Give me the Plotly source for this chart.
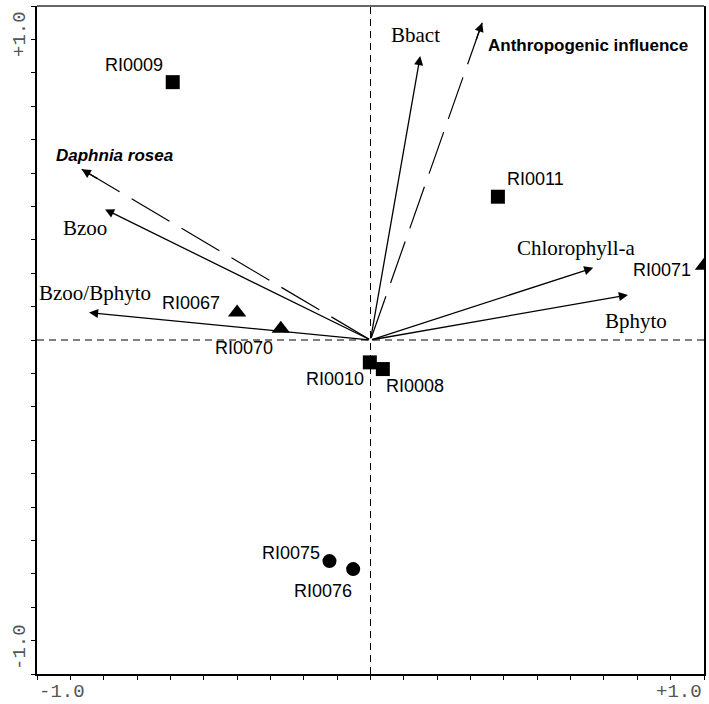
import math
import plotly.graph_objects as go

# ---------------- data ----------------
site_names = ["RI0009", "RI0011", "RI0071", "RI0067", "RI0070",
              "RI0010", "RI0008", "RI0075", "RI0076"]
site_x = [-0.593, 0.382, 1.000, -0.400, -0.269, -0.002, 0.037, -0.123, -0.052]
site_y = [0.772, 0.429, 0.222, 0.082, 0.034, -0.067, -0.087, -0.662, -0.686]
site_group = ["A", "A", "B", "B", "B", "A", "A", "C", "C"]

var_names = ["Bbact", "Chlorophyll-a", "Bphyto", "Bzoo/Bphyto", "Bzoo"]
var_x = [0.149, 0.668, 0.772, -0.844, -0.796]
var_y = [0.850, 0.216, 0.135, 0.082, 0.391]

supp_names = ["Anthropogenic influence", "Daphnia rosea"]
supp_x = [0.335, -0.866]
supp_y = [0.950, 0.511]

tick_labels = ["-1.0", "+1.0"]

# ---------------- styles / label placement (pixels) ----------------
group_symbol = {"A": "square", "B": "triangle-up", "C": "circle"}
group_size = {"A": 14, "B": 16, "C": 14}

site_label_shift = {
    "RI0009": (-39, 17), "RI0011": (38, 18), "RI0071": (-42, -4),
    "RI0067": (-46, 10), "RI0070": (-37, -19), "RI0010": (-35, -17),
    "RI0008": (32, -17), "RI0075": (-38, 8), "RI0076": (-30, -22),
}
var_label_shift = {
    "Bbact": (-5, 21), "Chlorophyll-a": (-17, 20), "Bphyto": (8, -26),
    "Bzoo/Bphyto": (6, 20), "Bzoo": (-20, -19),
}
supp_label_shift = {
    "Anthropogenic influence": (106, -23), "Daphnia rosea": (33, 14),
}

PX_PER_UNIT = 334.0
SANS = "Liberation Sans, Arial, sans-serif"
SERIF = "Liberation Serif, Times New Roman, serif"
MONO = "Liberation Mono, Courier New, monospace"

fig = go.Figure()

annotations = []

# solid arrows (species/environment vectors)
for name, vx, vy in zip(var_names, var_x, var_y):
    annotations.append(dict(
        x=vx, y=vy, ax=0, ay=0, xref="x", yref="y", axref="x", ayref="y",
        text="", showarrow=True, arrowhead=2, arrowsize=1.4, arrowwidth=1.3,
        arrowcolor="black", standoff=0, startstandoff=0))
    dx, dy = var_label_shift[name]
    annotations.append(dict(
        x=vx, y=vy, xref="x", yref="y", text=name, showarrow=False,
        xshift=dx, yshift=dy, xanchor="center", yanchor="middle",
        font=dict(family=SERIF, size=21, color="black")))

# dashed arrows (supplementary variables)
for name, vx, vy in zip(supp_names, supp_x, supp_y):
    fig.add_trace(go.Scatter(
        x=[vx, 0], y=[vy, 0], mode="lines", hoverinfo="skip",
        line=dict(color="black", width=1.2, dash="44px,14px"),
        showlegend=False))
    length_px = math.hypot(vx, vy) * PX_PER_UNIT
    frac = 1 - 20.0 / length_px
    annotations.append(dict(
        x=vx, y=vy, ax=vx * frac, ay=vy * frac, xref="x", yref="y",
        axref="x", ayref="y", text="", showarrow=True, arrowhead=2,
        arrowsize=1.4, arrowwidth=1.3, arrowcolor="black",
        standoff=0, startstandoff=0))
    dx, dy = supp_label_shift[name]
    label = "<b>" + name + "</b>" if name.startswith("Anthrop") else "<b><i>" + name + "</i></b>"
    annotations.append(dict(
        x=vx, y=vy, xref="x", yref="y", text=label, showarrow=False,
        xshift=dx, yshift=dy, xanchor="center", yanchor="middle",
        font=dict(family=SANS, size=17, color="black")))

# sites
fig.add_trace(go.Scatter(
    x=site_x, y=site_y, mode="markers", hoverinfo="text", text=site_names,
    marker=dict(symbol=[group_symbol[g] for g in site_group],
                size=[group_size[g] for g in site_group],
                color="black", opacity=1, line=dict(width=0)),
    showlegend=False))
for name, sx, sy in zip(site_names, site_x, site_y):
    dx, dy = site_label_shift[name]
    annotations.append(dict(
        x=sx, y=sy, xref="x", yref="y", text=name, showarrow=False,
        xshift=dx, yshift=dy, xanchor="center", yanchor="middle",
        font=dict(family=SANS, size=18, color="black")))

# axis end labels
tick_font = dict(family=MONO, size=19, color="#555555")
annotations += [
    dict(x=-1, y=0, xref="x", yref="paper", text=tick_labels[0], showarrow=False,
         xanchor="left", yanchor="middle", yshift=-18, font=tick_font),
    dict(x=1, y=0, xref="x", yref="paper", text=tick_labels[1], showarrow=False,
         xanchor="right", yanchor="middle", yshift=-18, font=tick_font),
    dict(x=0, y=1, xref="paper", yref="y", text=tick_labels[1], showarrow=False,
         textangle=-90, xanchor="center", yanchor="top", xshift=-17, yshift=-3,
         font=tick_font),
    dict(x=0, y=-1, xref="paper", yref="y", text=tick_labels[0], showarrow=False,
         textangle=-90, xanchor="center", yanchor="bottom", xshift=-17, yshift=2,
         font=tick_font),
]

shapes = [
    dict(type="line", xref="x", yref="y", x0=-1, x1=1, y0=0, y1=0,
         line=dict(color="black", width=1, dash="7px,5px"), layer="below"),
    dict(type="line", xref="x", yref="y", x0=0, x1=0, y0=-1, y1=1,
         line=dict(color="black", width=1, dash="7px,5px"), layer="below"),
    dict(type="line", xref="paper", yref="paper", x0=0, x1=1, y0=1, y1=1,
         line=dict(color="#666666", width=2)),
]

tickvals = [round(-1 + 0.1 * i, 1) for i in range(21)]

fig.update_layout(
    width=709, height=704,
    margin=dict(l=37, r=3, t=6, b=30),
    plot_bgcolor="white", paper_bgcolor="white",
    annotations=annotations, shapes=shapes,
    xaxis=dict(range=[-1, 1], showgrid=False, zeroline=False,
               showline=True, linecolor="black", linewidth=1.5,
               ticks="outside", ticklen=4, tickcolor="black",
               tickvals=tickvals, showticklabels=False, fixedrange=True),
    yaxis=dict(range=[-1, 1], showgrid=False, zeroline=False,
               showline=True, linecolor="black", linewidth=1.5, mirror=True,
               ticks="outside", ticklen=4, tickcolor="black",
               tickvals=tickvals, showticklabels=False, fixedrange=True),
)

fig.write_html("out.html", config={"displayModeBar": False},
               post_script="document.body.style.margin='0';document.body.style.overflow='hidden';")
